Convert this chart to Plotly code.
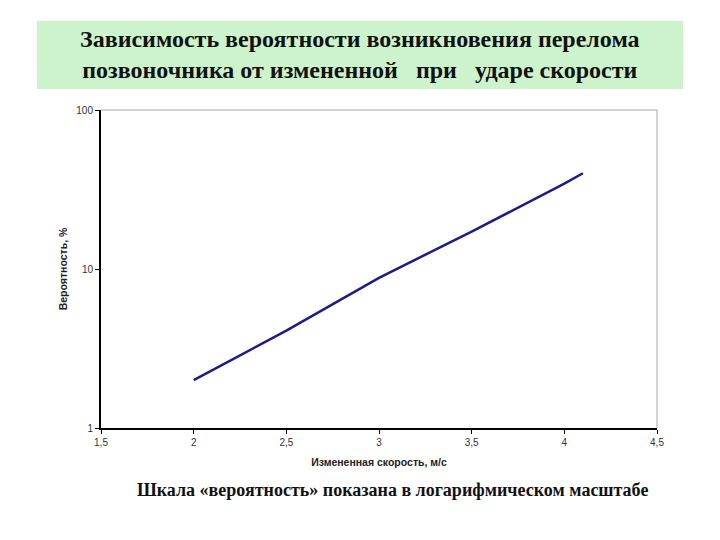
import plotly.graph_objects as go

# speed change (m/s) vs. probability of spinal fracture (%)
speed = [2.0, 2.5, 3.0, 3.5, 4.0, 4.1]
probability = [2.0, 4.1, 8.8, 17.2, 34.4, 40.0]

x_ticks = [1.5, 2, 2.5, 3, 3.5, 4, 4.5]
y_ticks = [1, 10, 100]

TITLE = "Зависимость вероятности возникновения перелома<br>позвоночника от измененной &nbsp; при &nbsp; ударе скорости"
CAPTION = "Шкала «вероятность» показана в логарифмическом масштабе"

fig = go.Figure()
fig.add_trace(go.Scatter(
    x=speed, y=probability,
    mode='lines',
    line=dict(color='#1c1c86', width=2.5),
    showlegend=False,
    hovertemplate='%{x}<br>%{y}%<extra></extra>'
))

axis_font = dict(family="Liberation Sans, Arial, sans-serif", size=10, color="#333333")
label_font = dict(family="Liberation Sans, Arial, sans-serif", size=10.5, color="#222222")

# page body adds ~8px offset, so margins are shifted accordingly
fig.update_layout(
    width=720, height=540,
    paper_bgcolor='white',
    plot_bgcolor='white',
    separators=', ',
    margin=dict(l=93, r=71, t=102, b=120),
    xaxis=dict(
        range=[1.5, 4.5],
        tickvals=x_ticks,
        ticks='outside', ticklen=4, tickcolor='black',
        showline=True, linecolor='black', linewidth=2,
        showgrid=False, zeroline=False,
        tickfont=axis_font,
        title=dict(text="<b>Измененная скорость, м/с</b>", font=label_font, standoff=12),
    ),
    yaxis=dict(
        type='log',
        range=[0, 2],
        tickvals=y_ticks,
        ticks='outside', ticklen=4, tickcolor='black',
        showline=True, linecolor='black', linewidth=2,
        showgrid=False, zeroline=False,
        tickfont=axis_font,
        title=dict(text="<b>Вероятность, %</b>", font=label_font, standoff=7),
    ),
    shapes=[
        # green title box
        dict(type='rect', xref='paper', yref='paper',
             x0=-0.115, x1=1.047, y0=1.066, y1=1.28,
             fillcolor='#ccf3cc', line=dict(width=0), layer='below'),
        # grey top/right frame of plot area
        dict(type='line', xref='paper', yref='paper', x0=0, x1=1, y0=1, y1=1,
             line=dict(color='#a8a8a8', width=1)),
        dict(type='line', xref='paper', yref='paper', x0=1, x1=1, y0=0, y1=1,
             line=dict(color='#a8a8a8', width=1)),
    ],
    annotations=[
        dict(text="<b>" + TITLE + "</b>", xref='paper', yref='paper',
             x=0.466, y=1.173, xanchor='center', yanchor='middle', showarrow=False,
             font=dict(family="Liberation Serif, Times New Roman, serif", size=24, color='#111111')),
        dict(text="<b>" + CAPTION + "</b>", xref='paper', yref='paper',
             x=0.525, y=-0.195, xanchor='center', yanchor='middle', showarrow=False,
             font=dict(family="Liberation Serif, Times New Roman, serif", size=18, color='#111111')),
    ],
)

fig.write_html("out.html")
